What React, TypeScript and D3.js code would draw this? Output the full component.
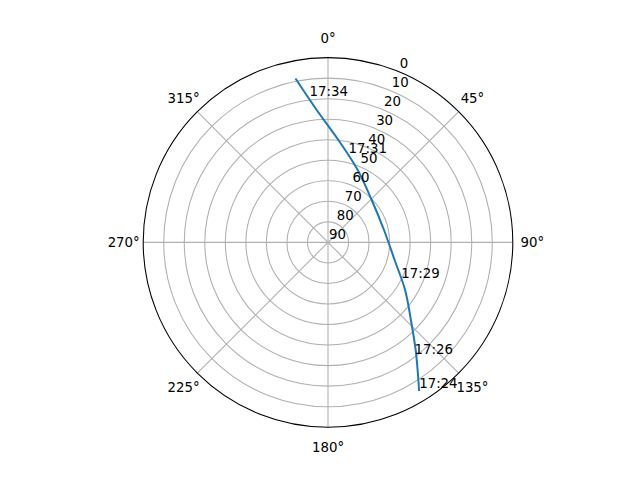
import React from "react";
import * as d3 from "d3";

// Track samples (azimuth in degrees, elevation in degrees), chronological
const trackAz = [148.35, 145.83, 140.83, 133.11, 121.69, 104.8, 77.51, 45.86, 22.31, 5.8, 355.12, 348.9];
const trackEl = [5.55, 11.95, 22.41, 34.7, 45.87, 56.45, 62.07, 60.35, 51.89, 39.87, 25.29, 9.06];

// Time annotations
const labelTimes = ["17:24", "17:26", "17:29", "17:31", "17:34"];
const labelAz = [148.0, 142.3, 115.7, 12.9, 352.8];
const labelEl = [6.2, 21.1, 50.4, 45.2, 18.0];

// Axis ticks
const thetaTicks = [0, 45, 90, 135, 180, 225, 270, 315];
const rTicks = [0, 10, 20, 30, 40, 50, 60, 70, 80, 90];

const W = 640;
const H = 480;
const cx = 328;
const cy = 242.4;
const R = 184.8;
const FONT = "'DejaVu Sans', sans-serif";
const FS = 13.33;

export default function App() {
  const r = d3.scaleLinear().domain([90, 0]).range([0, R]);
  const toRad = (deg: number) => (deg * Math.PI) / 180;
  const px = (az: number, el: number) => [cx + r(el) * Math.sin(toRad(az)), cy - r(el) * Math.cos(toRad(az))];

  const track = trackAz.map((a, i) => ({ a, e: trackEl[i] }));
  const line = d3
    .lineRadial<{ a: number; e: number }>()
    .angle((d) => toRad(d.a))
    .radius((d) => r(d.e))
    .curve(d3.curveCatmullRom.alpha(0.5));

  const labelAngle = 22.5;

  return (
    <svg width={W} height={H} style={{ display: "block", background: "#fff" }}>
      <style>{`body{margin:0;overflow:hidden}`}</style>
      <rect x={0} y={0} width={W} height={H} fill="#fff" />
      <g>
        {/* radial grid circles */}
        {rTicks
          .filter((t) => t !== 0 && t !== 90)
          .map((t) => (
            <circle key={"c" + t} cx={cx} cy={cy} r={r(t)} fill="none" stroke="#b0b0b0" strokeWidth={1.07} />
          ))}
        {/* angular grid lines */}
        {thetaTicks.map((t) => {
          const [x2, y2] = px(t, 0);
          return <line key={"l" + t} x1={cx} y1={cy} x2={x2} y2={y2} stroke="#b0b0b0" strokeWidth={1.07} />;
        })}
        {/* track */}
        <path d={line(track) || ""} transform={`translate(${cx},${cy})`} fill="none" stroke="#1f77b4" strokeWidth={2} strokeLinecap="square" />
        {/* outer spine */}
        <circle cx={cx} cy={cy} r={R} fill="none" stroke="#000" strokeWidth={1.07} />
        {/* theta labels */}
        {thetaTicks.map((t) => {
          const d = R + 19.5;
          const x = cx + d * Math.sin(toRad(t));
          const y = cy - d * Math.cos(toRad(t));
          return (
            <text key={"tl" + t} x={x} y={y + 4.8} textAnchor="middle" fontFamily={FONT} fontSize={FS} fill="#000">
              {t + "°"}
            </text>
          );
        })}
        {/* radial labels */}
        {rTicks.map((t) => {
          const [x, y] = px(labelAngle, t);
          return (
            <text key={"rl" + t} x={x + 1} y={y - 3.2} fontFamily={FONT} fontSize={FS} fill="#000">
              {t}
            </text>
          );
        })}
        {/* time annotations */}
        {labelTimes.map((s, i) => {
          const [x, y] = px(labelAz[i], labelEl[i]);
          return (
            <text key={"t" + i} x={x} y={y} fontFamily={FONT} fontSize={FS} fill="#000">
              {s}
            </text>
          );
        })}
      </g>
    </svg>
  );
}
